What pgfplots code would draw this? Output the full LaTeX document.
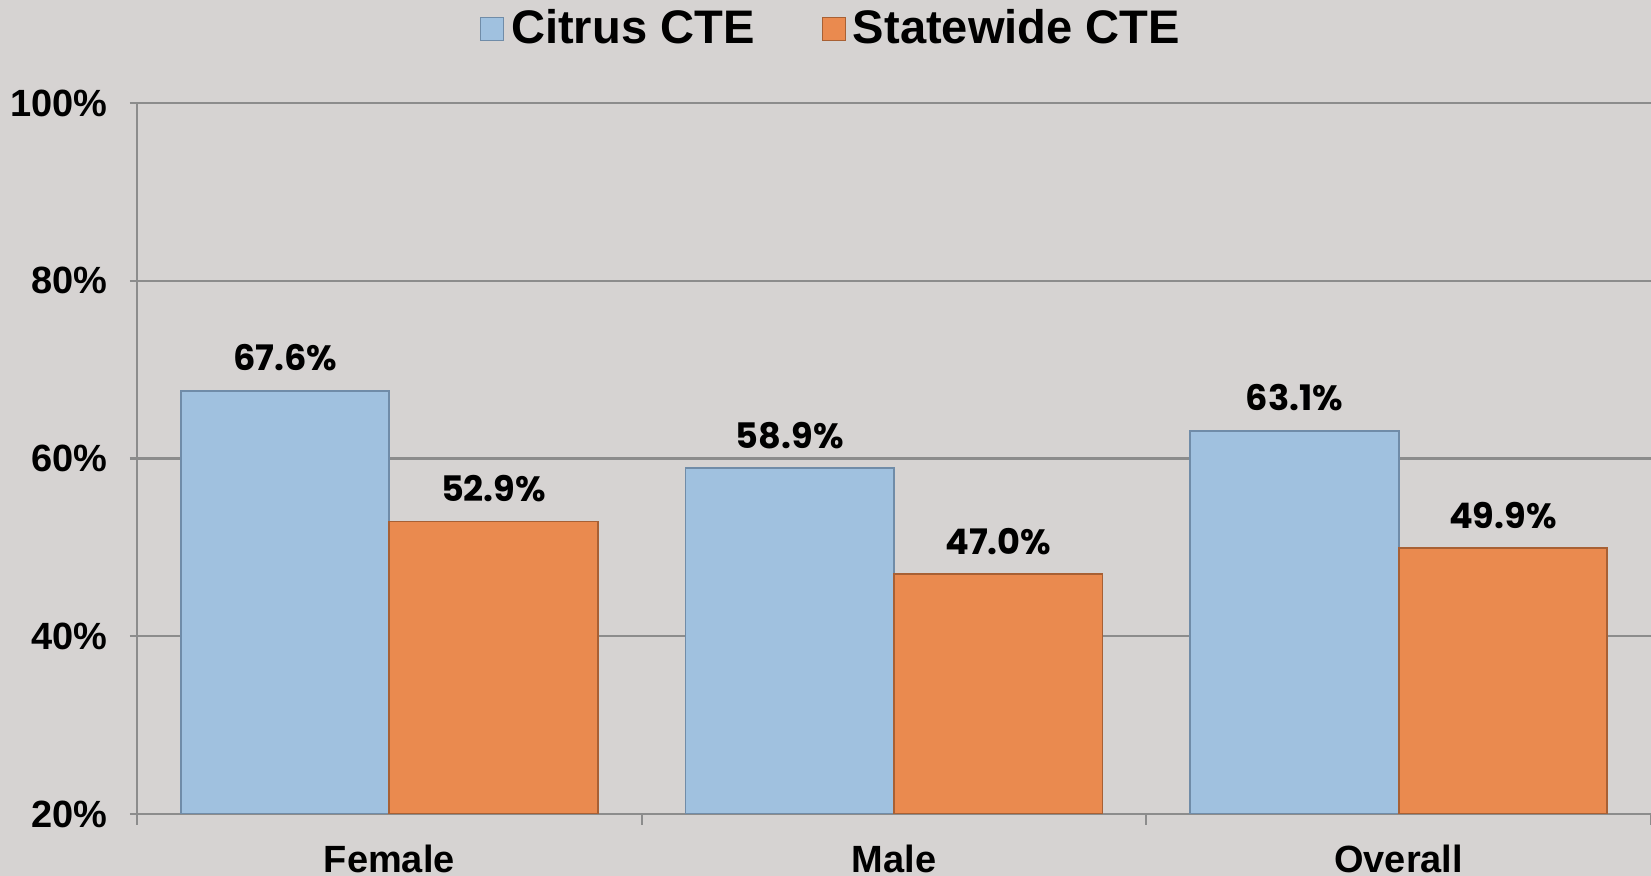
\documentclass[border=0pt]{standalone}
\usepackage{fontspec}
\setmainfont{Liberation Sans}
\newfontfamily\gothic{Poppins}
\usepackage{pgfplots}
\pgfplotsset{compat=1.18}
\definecolor{bgray}{RGB}{214,211,210}
\definecolor{citrus}{RGB}{160,193,223}
\definecolor{citrusedge}{RGB}{112,140,168}
\definecolor{state}{RGB}{234,138,79}
\definecolor{stateedge}{RGB}{168,96,52}
\definecolor{gridc}{RGB}{140,140,140}

\begin{document}
\begin{tikzpicture}
\path[use as bounding box, fill=bgray] (0,0) rectangle (165.1mm,87.6mm);
\begin{axis}[
    at={(13.7mm,6.2mm)}, anchor=south west,
    scale only axis, width=151.4mm, height=71.1mm,
    xmin=-0.5, xmax=2.5, ymin=20, ymax=100,
    ytick={20,40,60,80,100},
    yticklabel={\pgfmathprintnumber{\tick}\%},
    xtick={0,1,2}, xticklabels={Female,Male,Overall},
    minor xtick={-0.5,0.5,1.5,2.5},
    major x tick style={draw=none},
    tick align=outside, major tick length=0.7mm, minor tick length=1.1mm,
    axis x line*=bottom, axis y line*=left,
    axis line style={-, draw=gridc, line width=0.6pt},
    tick style={draw=gridc, line width=0.6pt},
    ymajorgrids, grid style={draw=gridc, line width=0.6pt},
    /pgf/number format/assume math mode=true,
    tick label style={font=\bfseries\fontsize{10.8}{12}\selectfont},
    yticklabel style={xshift=-1mm},
    xticklabel style={anchor=base, yshift=-5.2mm},
    ybar=0pt, bar width=0.413,
    nodes near coords={\pgfmathprintnumber[fixed,fixed zerofill,precision=1]{\pgfplotspointmeta}\%},
    every node near coord/.append style={font=\gothic\bfseries\fontsize{10}{11}\selectfont, anchor=base, inner sep=0pt, yshift=2mm, text=black},
    legend style={at={(0.46,1.104)}, anchor=center, draw=none, fill=none,
        legend columns=2, font=\bfseries\fontsize{13.4}{15}\selectfont,
        /tikz/every even column/.append style={column sep=6mm}},
    legend image code/.code={\draw[#1,line width=0.4pt] (0mm,-1.15mm) rectangle (2.3mm,1.15mm);},
]
\addplot[fill=citrus, draw=citrusedge, line width=0.5pt] coordinates {(0,67.6) (1,58.9) (2,63.1)};
\addplot[fill=state, draw=stateedge, line width=0.5pt] coordinates {(0,52.9) (1,47.0) (2,49.9)};
\legend{Citrus CTE, Statewide CTE}
\end{axis}
\end{tikzpicture}
\end{document}
